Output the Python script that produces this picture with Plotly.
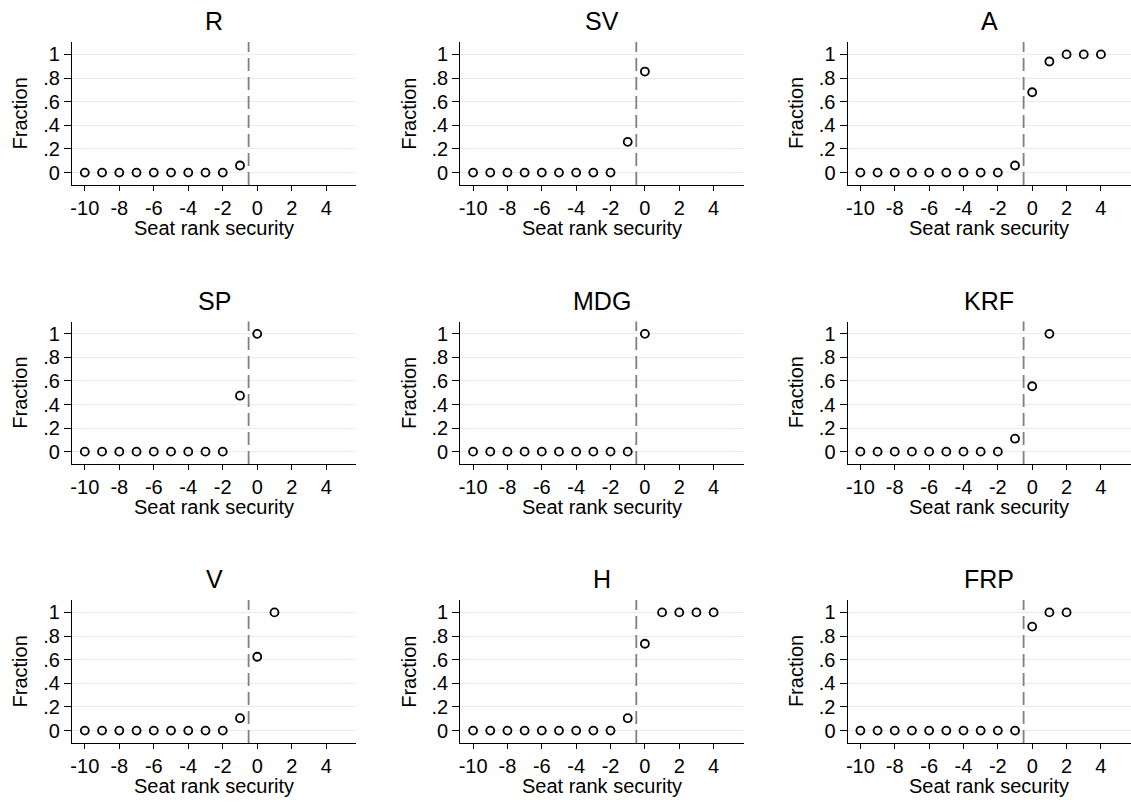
import plotly.graph_objects as go

parties = ["R", "SV", "A", "SP", "MDG", "KRF", "V", "H", "FRP"]

x_R = [-10, -9, -8, -7, -6, -5, -4, -3, -2, -1]
y_R = [0, 0, 0, 0, 0, 0, 0, 0, 0, 0.06]

x_SV = [-10, -9, -8, -7, -6, -5, -4, -3, -2, -1, 0]
y_SV = [0, 0, 0, 0, 0, 0, 0, 0, 0, 0.26, 0.855]

x_A = [-10, -9, -8, -7, -6, -5, -4, -3, -2, -1, 0, 1, 2, 3, 4]
y_A = [0, 0, 0, 0, 0, 0, 0, 0, 0, 0.06, 0.68, 0.94, 1, 1, 1]

x_SP = [-10, -9, -8, -7, -6, -5, -4, -3, -2, -1, 0]
y_SP = [0, 0, 0, 0, 0, 0, 0, 0, 0, 0.475, 1]

x_MDG = [-10, -9, -8, -7, -6, -5, -4, -3, -2, -1, 0]
y_MDG = [0, 0, 0, 0, 0, 0, 0, 0, 0, 0, 1]

x_KRF = [-10, -9, -8, -7, -6, -5, -4, -3, -2, -1, 0, 1]
y_KRF = [0, 0, 0, 0, 0, 0, 0, 0, 0, 0.11, 0.555, 1]

x_V = [-10, -9, -8, -7, -6, -5, -4, -3, -2, -1, 0, 1]
y_V = [0, 0, 0, 0, 0, 0, 0, 0, 0, 0.105, 0.625, 1]

x_H = [-10, -9, -8, -7, -6, -5, -4, -3, -2, -1, 0, 1, 2, 3, 4]
y_H = [0, 0, 0, 0, 0, 0, 0, 0, 0, 0.105, 0.735, 1, 1, 1, 1]

x_FRP = [-10, -9, -8, -7, -6, -5, -4, -3, -2, -1, 0, 1, 2]
y_FRP = [0, 0, 0, 0, 0, 0, 0, 0, 0, 0, 0.88, 1, 1]

xs = [x_R, x_SV, x_A, x_SP, x_MDG, x_KRF, x_V, x_H, x_FRP]
ys = [y_R, y_SV, y_A, y_SP, y_MDG, y_KRF, y_V, y_H, y_FRP]

y_tickvals = [0, 0.2, 0.4, 0.6, 0.8, 1]
y_ticktext = ["0", ".2", ".4", ".6", ".8", "1"]
x_tickvals = [-10, -8, -6, -4, -2, 0, 2, 4]
x_ticktext = ["-10", "-8", "-6", "-4", "-2", "0", "2", "4"]
cutoff = -0.5

W, H = 1131, 802
col_px = [(70, 355), (459, 743), (847, 1131)]
row_px = [(42, 185), (321.5, 464), (600, 743)]

FONT = "Liberation Sans, Arial, sans-serif"
fig = go.Figure()
annotations = []
shapes = []
layout = {}

for i, p in enumerate(parties):
    r, c = divmod(i, 3)
    n = i + 1
    xa = "x" if n == 1 else f"x{n}"
    ya = "y" if n == 1 else f"y{n}"
    xd = [col_px[c][0] / W, col_px[c][1] / W]
    yd = [1 - row_px[r][1] / H, 1 - row_px[r][0] / H]
    fig.add_trace(go.Scatter(
        x=xs[i], y=ys[i], xaxis=xa, yaxis=ya, mode="markers",
        marker=dict(symbol="circle-open", size=8, color="black",
                    line=dict(width=1.8, color="black")),
        showlegend=False, cliponaxis=False))
    layout["xaxis" if n == 1 else f"xaxis{n}"] = dict(
        domain=xd, range=[-10.75, 5.75], anchor=ya,
        tickvals=x_tickvals, ticktext=x_ticktext, ticks="outside",
        ticklen=5, tickwidth=1, tickcolor="black",
        showline=True, linecolor="black", linewidth=1, showgrid=False,
        zeroline=False, tickfont=dict(family=FONT, size=20, color="black"))
    layout["yaxis" if n == 1 else f"yaxis{n}"] = dict(
        domain=yd, range=[-0.105, 1.105], anchor=xa,
        tickvals=y_tickvals, ticktext=y_ticktext, ticks="outside",
        ticklen=7, tickwidth=1, tickcolor="black",
        showline=True, linecolor="black", linewidth=1, showgrid=True,
        gridcolor="#e4edf1", gridwidth=1.3,
        zeroline=False, tickfont=dict(family=FONT, size=20, color="black"))
    xc = (col_px[c][0] + col_px[c][1]) / 2 / W
    # title
    annotations.append(dict(
        text=p, x=xc, y=1 - (row_px[r][0] - 21) / H, xref="paper", yref="paper",
        xanchor="center", yanchor="middle", showarrow=False,
        font=dict(family=FONT, size=25, color="black")))
    # x axis title
    annotations.append(dict(
        text="Seat rank security", x=xc, y=1 - (row_px[r][1] + 43) / H,
        xref="paper", yref="paper", xanchor="center", yanchor="middle",
        showarrow=False, font=dict(family=FONT, size=20, color="black")))
    # y axis title
    annotations.append(dict(
        text="Fraction", x=(col_px[c][0] - 52) / W,
        y=1 - (row_px[r][0] + row_px[r][1]) / 2 / H,
        xref="paper", yref="paper", xanchor="center", yanchor="middle",
        textangle=-90, showarrow=False,
        font=dict(family=FONT, size=20, color="black")))
    # cutoff line
    shapes.append(dict(
        type="line", xref=xa, yref=f"{ya} domain", x0=cutoff, x1=cutoff,
        y0=0, y1=1, line=dict(color="#808080", width=1.8, dash="13px,6px")))

fig.update_layout(
    width=W, height=H, margin=dict(l=0, r=0, t=0, b=0),
    paper_bgcolor="white", plot_bgcolor="white",
    annotations=annotations, shapes=shapes, **layout)

fig.write_html("out.html")
